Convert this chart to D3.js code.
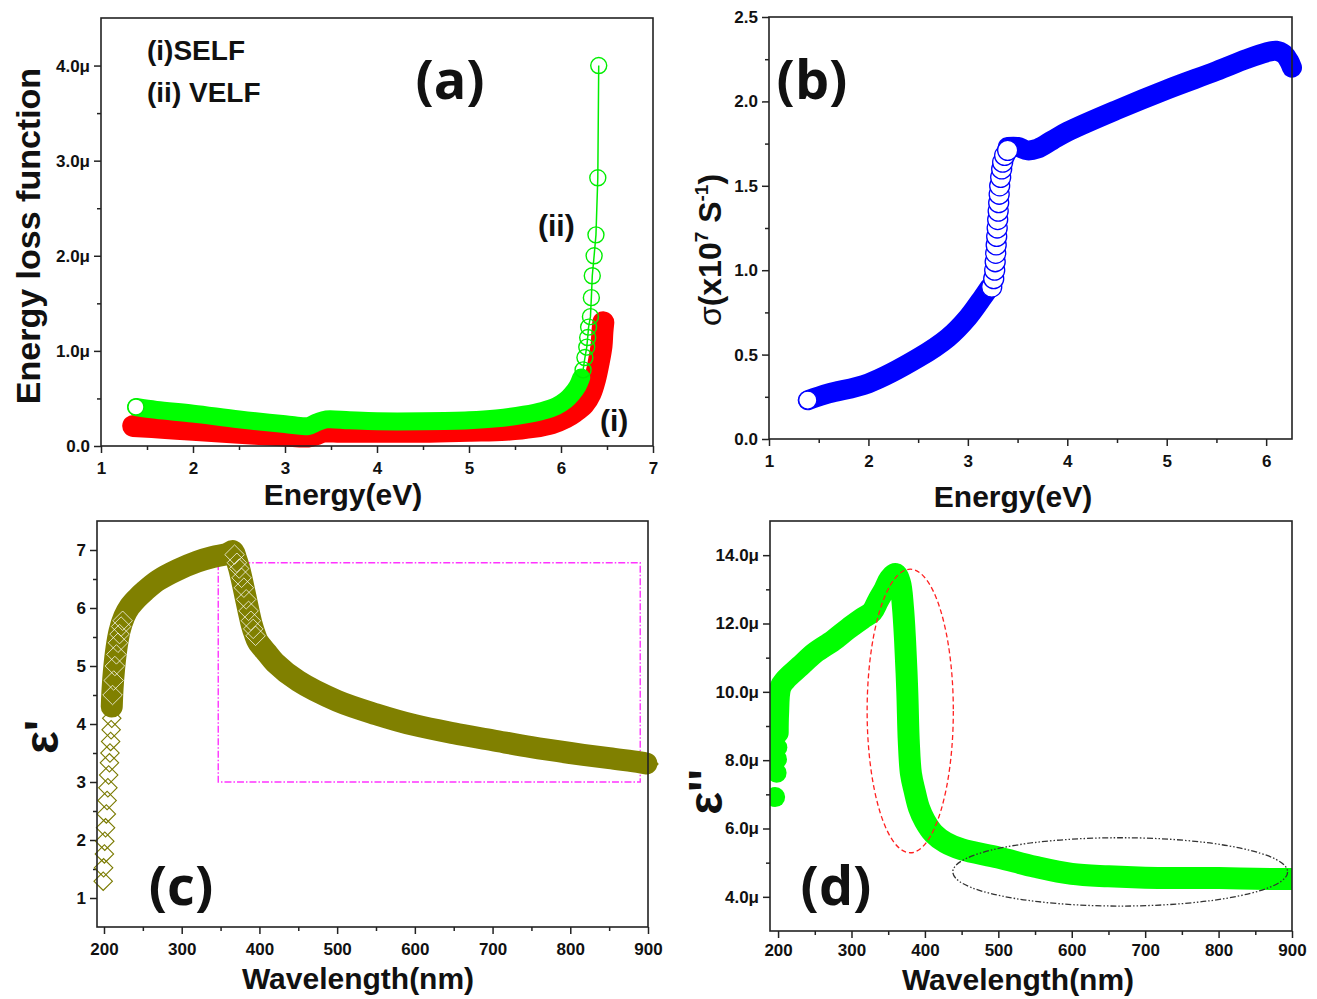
<!DOCTYPE html>
<html lang="en">
<head>
<meta charset="utf-8">
<title>Energy loss function, conductivity and dielectric constants</title>
<script src="https://d3js.org/d3.v7.min.js"></script>
<style>
  html, body { margin: 0; padding: 0; background: #fff; }
  svg text { font-family: "Liberation Sans", Arial, sans-serif; font-weight: bold; fill: #111; }
  .tick text { font-size: 17px; font-weight: bold; font-family: "Liberation Sans", Arial, sans-serif; fill: #111; }
  .tick line { stroke: #222; stroke-width: 1.5px; }
  .axis-title { font-size: 30px; }
  .tag { font-family: "Open Sans", sans-serif; font-size: 54px; font-weight: 700; }
</style>
</head>
<body>
<div id="chart"></div>
<script>
// ---- (a) energy loss functions, E in eV, values in units of 1e-6 ----
var selfE = [1.35, 1.7, 2.0, 2.5, 3.0, 3.25, 3.33, 3.42, 3.6, 4.0, 4.5, 5.0, 5.4, 5.7, 5.9, 6.05, 6.15, 6.25, 6.32, 6.37, 6.41, 6.44, 6.45, 6.46];
var selfV = [0.21, 0.19, 0.17, 0.14, 0.11, 0.10, 0.12, 0.15, 0.15, 0.15, 0.15, 0.16, 0.17, 0.20, 0.24, 0.30, 0.36, 0.44, 0.55, 0.70, 0.88, 1.05, 1.20, 1.30];
var velfE = [1.38, 1.6, 2.0, 2.5, 3.0, 3.25, 3.35, 3.45, 3.7, 4.0, 4.5, 5.0, 5.3, 5.6, 5.8, 5.95, 6.05, 6.12, 6.18, 6.22];
var velfV = [0.41, 0.38, 0.34, 0.28, 0.23, 0.21, 0.25, 0.28, 0.27, 0.26, 0.26, 0.27, 0.29, 0.33, 0.37, 0.42, 0.48, 0.55, 0.63, 0.72];
// single circles visible on the steep end of VELF
var velfTailE = [6.24, 6.26, 6.28, 6.29, 6.30, 6.32, 6.33, 6.34, 6.36, 6.38, 6.40, 6.41];
var velfTailV = [0.80, 0.93, 1.04, 1.14, 1.25, 1.36, 1.56, 1.79, 2.0, 2.22, 2.82, 4.0];

// ---- (b) optical conductivity, x10^7 S^-1 ----
var sigLowE = [1.39, 1.6, 2.0, 2.5, 2.8, 3.0, 3.15, 3.22];
var sigLowV = [0.23, 0.27, 0.33, 0.48, 0.60, 0.72, 0.84, 0.90];
var sigRiseE = [3.24, 3.26, 3.27, 3.275, 3.28, 3.285, 3.29, 3.295, 3.30, 3.305, 3.31, 3.315, 3.32, 3.33, 3.34, 3.35, 3.37, 3.40];
var sigRiseV = [0.90, 0.95, 1.00, 1.05, 1.10, 1.15, 1.20, 1.25, 1.30, 1.35, 1.40, 1.45, 1.50, 1.55, 1.60, 1.64, 1.68, 1.71];
var sigHighE = [3.40, 3.5, 3.6, 3.7, 3.85, 4.0, 4.5, 5.0, 5.5, 5.8, 6.0, 6.1, 6.18, 6.23, 6.26];
var sigHighV = [1.73, 1.73, 1.71, 1.72, 1.77, 1.82, 1.95, 2.07, 2.18, 2.25, 2.29, 2.30, 2.28, 2.24, 2.20];

// ---- (c) real part of dielectric constant vs wavelength (nm) ----
var eps1LowL = [199, 199.5, 200.5, 201, 202, 203, 204, 205, 206, 207, 207.7, 208.5, 209.2, 210];
var eps1LowV = [1.29, 1.52, 1.76, 1.98, 2.21, 2.45, 2.68, 2.9, 3.12, 3.33, 3.5, 3.7, 3.9, 4.1];
var eps1L = [210, 211, 213, 216, 220, 226, 233, 242, 253, 270, 295, 320, 340, 358, 366, 370, 374, 378, 382, 386, 390, 394, 398, 410, 420, 450, 500, 550, 600, 650, 700, 750, 800, 850, 890, 898];
var eps1V = [4.3, 4.6, 4.95, 5.3, 5.6, 5.85, 6.02, 6.16, 6.3, 6.48, 6.66, 6.8, 6.88, 6.93, 6.98, 6.85, 6.68, 6.45, 6.2, 5.95, 5.72, 5.55, 5.42, 5.22, 5.06, 4.74, 4.40, 4.17, 3.98, 3.84, 3.72, 3.6, 3.5, 3.41, 3.34, 3.32];
var eps1HatchL = [211, 212.5, 214, 216, 218, 220, 222, 224, 368, 371, 374, 377, 380, 383, 386, 389, 392, 395];
var eps1HatchV = [4.5, 4.75, 5.0, 5.2, 5.4, 5.55, 5.68, 5.78, 6.92, 6.78, 6.68, 6.52, 6.35, 6.15, 5.95, 5.78, 5.64, 5.52];
var eps1EndL = 900, eps1EndV = 3.31;
var boxL = [347, 890], boxV = [3.0, 6.78];

// ---- (d) imaginary part, units of 1e-6 ----
var eps2DotsL = [196, 198, 198.5, 199];
var eps2DotsV = [6.92, 7.63, 8.03, 8.37];
var eps2L = [199.5, 200, 203, 210, 230, 250, 275, 295, 315, 328, 336, 345, 352, 360, 366, 370, 373, 376, 378, 381, 386, 392, 400, 412, 428, 450, 500, 550, 600, 650, 700, 750, 800, 850, 900];
var eps2V = [8.8, 9.35, 10.12, 10.35, 10.75, 11.14, 11.5, 11.84, 12.15, 12.34, 12.66, 13.0, 13.3, 13.45, 13.2, 12.5, 11.49, 10.0, 8.56, 7.6, 7.1, 6.6, 6.22, 5.85, 5.59, 5.39, 5.15, 4.88, 4.67, 4.6, 4.56, 4.55, 4.55, 4.53, 4.52];
// annotation ellipses: centre (nm, value), radii (nm, value)
var redEllipse = [380, 9.44, 58.7, 4.15];
var blackEllipse = [666, 4.73, 228, 1.0];

// ---- tick values / labels ----
var aXTicks = [1, 2, 3, 4, 5, 6, 7], aXMinor = [1.5, 2.5, 3.5, 4.5, 5.5, 6.5];
var aYTicks = [0, 1, 2, 3, 4], aYMinor = [0.5, 1.5, 2.5, 3.5];
var aYLabels = ["0.0", "1.0\u03bc", "2.0\u03bc", "3.0\u03bc", "4.0\u03bc"];
var bXTicks = [1, 2, 3, 4, 5, 6], bXMinor = [1.5, 2.5, 3.5, 4.5, 5.5];
var bYTicks = [0, 0.5, 1, 1.5, 2, 2.5], bYMinor = [0.25, 0.75, 1.25, 1.75, 2.25];
var bYLabels = ["0.0", "0.5", "1.0", "1.5", "2.0", "2.5"];
var wlTicks = [200, 300, 400, 500, 600, 700, 800, 900], wlMinor = [250, 350, 450, 550, 650, 750, 850];
var cYTicks = [1, 2, 3, 4, 5, 6, 7], cYMinor = [1.5, 2.5, 3.5, 4.5, 5.5, 6.5];
var dYTicks = [4, 6, 8, 10, 12, 14], dYMinor = [5, 7, 9, 11, 13];
var dYLabels = ["4.0\u03bc", "6.0\u03bc", "8.0\u03bc", "10.0\u03bc", "12.0\u03bc", "14.0\u03bc"];

var W = 1317, H = 999;
var svg = d3.select("#chart").append("svg").attr("width", W).attr("height", H);
svg.append("rect").attr("width", W).attr("height", H).attr("fill", "#fff");

function panel(o) {
  var p = {};
  p.x = d3.scaleLinear().domain(o.xDomain).range([o.left, o.right]);
  p.y = d3.scaleLinear().domain(o.yDomain).range([o.bottom, o.top]);
  p.g = svg.append("g");
  var gxm = p.g.append("g").attr("transform", "translate(0," + o.bottom + ")")
    .call(d3.axisBottom(p.x).tickValues(o.xMinor).tickSize(4).tickFormat(""));
  var gx = p.g.append("g").attr("transform", "translate(0," + o.bottom + ")")
    .call(d3.axisBottom(p.x).tickValues(o.xTicks).tickSize(7).tickPadding(o.xPad || 9).tickFormat(d3.format("d")));
  var gym = p.g.append("g").attr("transform", "translate(" + o.left + ",0)")
    .call(d3.axisLeft(p.y).tickValues(o.yMinor).tickSize(4).tickFormat(""));
  var gy = p.g.append("g").attr("transform", "translate(" + o.left + ",0)")
    .call(d3.axisLeft(p.y).tickValues(o.yTicks).tickSize(7).tickPadding(4)
      .tickFormat(function(d, i) { return o.yLabels ? o.yLabels[i] : d; }));
  [gxm, gx, gym, gy].forEach(function(a) { a.select(".domain").remove(); });
  p.plot = p.g.append("g");
  p.g.append("rect").attr("x", o.left).attr("y", o.top)
    .attr("width", o.right - o.left).attr("height", o.bottom - o.top)
    .attr("fill", "none").attr("stroke", "#222").attr("stroke-width", 1.6);
  if (o.clip) {
    svg.append("clipPath").attr("id", o.clip).append("rect")
      .attr("x", o.left).attr("y", o.top).attr("width", o.right - o.left).attr("height", o.bottom - o.top);
    p.plot.attr("clip-path", "url(#" + o.clip + ")");
  }
  return p;
}

function pts(xs, ys) { return d3.zip(xs, ys); }

function band(p, data, color, width) {
  var line = d3.line().x(function(d) { return p.x(d[0]); }).y(function(d) { return p.y(d[1]); })
    .curve(d3.curveCatmullRom.alpha(0.5));
  p.plot.append("path").datum(data).attr("d", line)
    .attr("fill", "none").attr("stroke", color).attr("stroke-width", width)
    .attr("stroke-linecap", "round").attr("stroke-linejoin", "round");
}

function thinLine(p, data, color) {
  var line = d3.line().x(function(d) { return p.x(d[0]); }).y(function(d) { return p.y(d[1]); });
  p.plot.append("path").datum(data).attr("d", line)
    .attr("fill", "none").attr("stroke", color).attr("stroke-width", 1.5);
}

function circles(p, data, r, fill, stroke, sw) {
  p.plot.append("g").selectAll("circle").data(data).enter().append("circle")
    .attr("cx", function(d) { return p.x(d[0]); })
    .attr("cy", function(d) { return p.y(d[1]); })
    .attr("r", r).attr("fill", fill).attr("stroke", stroke).attr("stroke-width", sw);
}

function diamonds(p, data, size, fill, stroke, sw) {
  var sym = d3.symbol().type(d3.symbolSquare).size(size);
  p.plot.append("g").selectAll("path").data(data).enter().append("path")
    .attr("transform", function(d) { return "translate(" + p.x(d[0]) + "," + p.y(d[1]) + ") rotate(45)"; })
    .attr("d", sym).attr("fill", fill).attr("stroke", stroke).attr("stroke-width", sw);
}

function text(str, x, y, cls, size, anchor, rot) {
  var t = svg.append("text").attr("class", cls || null)
    .attr("text-anchor", anchor || "start")
    .attr("transform", "translate(" + x + "," + y + ")" + (rot ? " rotate(" + rot + ")" : ""))
    .text(str);
  if (size) t.style("font-size", size + "px");
  return t;
}

// ---------- (a) ----------
var pa = panel({ left: 101, right: 653, top: 18, bottom: 446, xDomain: [1, 7], yDomain: [0, 4.5],
  xTicks: aXTicks, xMinor: aXMinor, yTicks: aYTicks, yMinor: aYMinor, yLabels: aYLabels });
band(pa, pts(selfE, selfV), "#ff0000", 22);
var velfAll = pts(velfE, velfV).concat(pts(velfTailE, velfTailV));
thinLine(pa, velfAll, "#00ee00");
band(pa, pts(velfE, velfV), "#00ff00", 18);
circles(pa, pts(velfTailE, velfTailV), 8, "none", "#00ee00", 1.4);
circles(pa, [[velfE[0], velfV[0]]], 8, "#fff", "#00ee00", 1.4);

text("Energy loss function", 40, 236, "axis-title", 34, "middle", -90);
text("Energy(eV)", 343, 505, "axis-title", 30, "middle");
text("(i)SELF", 147, 60, null, 28);
text("(ii) VELF", 147, 102, null, 28);
text("(ii)", 538, 236, null, 30);
text("(i)", 600, 431, null, 30);
text("(a)", 450, 99, "tag", null, "middle");

// ---------- (b) ----------
var pb = panel({ left: 769, right: 1292, top: 17, bottom: 439, xDomain: [1, 6.26], yDomain: [0, 2.5],
  xTicks: bXTicks, xMinor: bXMinor, yTicks: bYTicks, yMinor: bYMinor, yLabels: bYLabels });
band(pb, pts(sigLowE, sigLowV), "#0000ff", 20);
band(pb, pts(sigHighE, sigHighV), "#0000ff", 20);
circles(pb, pts(sigRiseE, sigRiseV), 10, "#fff", "#0000ff", 1.3);
circles(pb, [[sigLowE[0], sigLowV[0]]], 9, "#fff", "#0000ff", 1.2);

var sl = svg.append("text").attr("text-anchor", "middle")
  .attr("transform", "translate(721,250) rotate(-90)").style("font-size", "32px");
sl.append("tspan").text("\u03c3").style("font-weight", "normal");
sl.append("tspan").text("(x10");
sl.append("tspan").text("7").attr("dy", -13).style("font-size", "19px");
sl.append("tspan").text(" S").attr("dy", 13);
sl.append("tspan").text("-1").attr("dy", -13).style("font-size", "19px");
sl.append("tspan").text(")").attr("dy", 13);
text("Energy(eV)", 1013, 507, "axis-title", 30, "middle");
text("(b)", 812, 99, "tag", null, "middle");

// ---------- (c) ----------
var pc = panel({ left: 97, right: 648, top: 521, bottom: 927, xDomain: [191, 900], yDomain: [0.5, 7.5],
  xTicks: wlTicks, xMinor: wlMinor, yTicks: cYTicks, yMinor: cYMinor });
pc.plot.append("rect")
  .attr("x", pc.x(boxL[0])).attr("y", pc.y(boxV[1]))
  .attr("width", pc.x(boxL[1]) - pc.x(boxL[0])).attr("height", pc.y(boxV[0]) - pc.y(boxV[1]))
  .attr("fill", "none").attr("stroke", "#ff33ff").attr("stroke-width", 1.4)
  .attr("stroke-dasharray", "7,2,1.5,2");
diamonds(pc, pts(eps1LowL, eps1LowV), 170, "none", "#7a7a00", 1.1);
band(pc, pts(eps1L, eps1V), "#808000", 22);
diamonds(pc, pts(eps1HatchL, eps1HatchV), 190, "none", "#fff", 0.7);
diamonds(pc, [[eps1EndL, eps1EndV]], 200, "none", "#808000", 1.2);

text("\u03b5'", 58, 737, null, 48, "middle", -90);
text("Wavelength(nm)", 358, 989, "axis-title", 30, "middle");
text("(c)", 181, 905, "tag", null, "middle");

// ---------- (d) ----------
var pd = panel({ left: 770, right: 1292, top: 521, bottom: 931, xDomain: [189, 900], yDomain: [3, 15],
  xTicks: wlTicks, xMinor: wlMinor, yTicks: dYTicks, yMinor: dYMinor, yLabels: dYLabels, clip: "clipD", xPad: 6 });
band(pd, pts(eps2L, eps2V), "#00ff00", 22);
circles(pd, pts(eps2DotsL, eps2DotsV), 10, "#00ff00", "none", 0);

function ellipse(p, e, color, dash) {
  p.g.append("ellipse")
    .attr("cx", p.x(e[0])).attr("cy", p.y(e[1]))
    .attr("rx", p.x(e[0] + e[2]) - p.x(e[0])).attr("ry", p.y(e[1]) - p.y(e[1] + e[3]))
    .attr("fill", "none").attr("stroke", color).attr("stroke-width", 1.3)
    .attr("stroke-dasharray", dash);
}
ellipse(pd, redEllipse, "#ff2020", "5,3");
ellipse(pd, blackEllipse, "#333", "6,2,1.5,2,1.5,2");

text("\u03b5''", 722, 792, null, 48, "middle", -90);
text("Wavelength(nm)", 1018, 990, "axis-title", 30, "middle");
text("(d)", 836, 905, "tag", null, "middle");
</script>
</body>
</html>
